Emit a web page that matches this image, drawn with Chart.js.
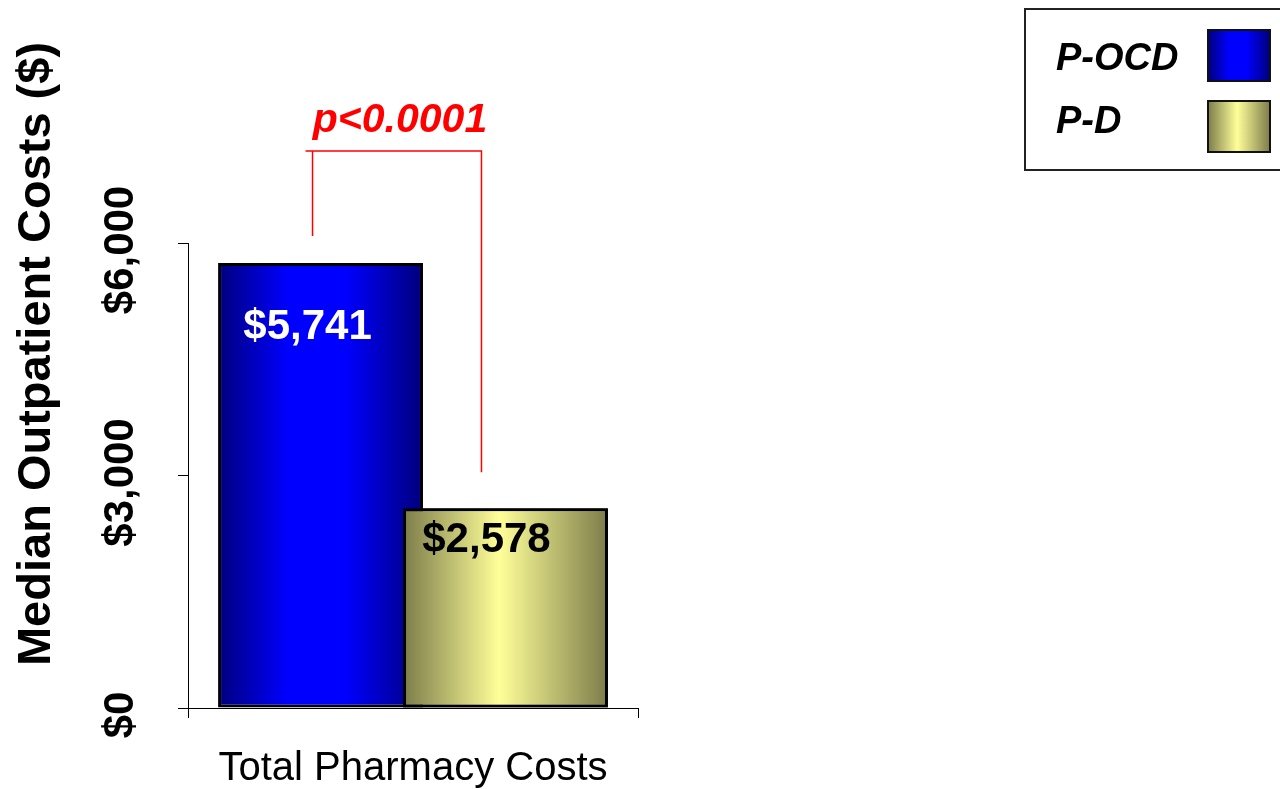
<!DOCTYPE html>
<html>
<head>
<meta charset="utf-8">
<script src="https://cdn.jsdelivr.net/npm/chart.js@4/dist/chart.umd.min.js"></script>
<style>
  body { margin: 0; background: #fff; }
  canvas { display: block; }
</style>
</head>
<body>
<canvas id="chart" width="1280" height="789"></canvas>
<script>
// data
const categories = ['Total Pharmacy Costs'];
const seriesNames = ['P-OCD', 'P-D'];
const pocdValues = [5741];
const pdValues = [2578];
const yTicks = [0, 3000, 6000];
const yTitle = 'Median Outpatient Costs ($)';
const pText = 'p<0.0001';

const FONT = '"Liberation Sans", Arial, sans-serif';

// horizontal shading of each bar: dark edges, light middle
const gradStops = [
  [[0, '#00007c'], [0.34, '#0000ff'], [0.62, '#0000ff'], [1, '#00007c']],
  [[0, '#7c7c4a'], [0.47, '#ffff99'], [1, '#7c7c4a']]
];
// value label look, relative to the top of each bar
const labelStyle = [
  { color: '#ffffff', dx: -13, dy: 64 },
  { color: '#000000', dx: -19, dy: 32 }
];

function money(v) {
  return '$' + Number(v).toLocaleString('en-US');
}

function barFill(c) {
  const stops = gradStops[c.datasetIndex];
  const el = c.element;
  if (!el || el.x === undefined || !el.width) return stops[1][1];
  const g = c.chart.ctx.createLinearGradient(el.x - el.width / 2, 0, el.x + el.width / 2, 0);
  stops.forEach(s => g.addColorStop(s[0], s[1]));
  return g;
}

const extras = {
  id: 'extras',
  afterDatasetsDraw(chart) {
    const ctx = chart.ctx;
    // the P-D bar sits in front of the P-OCD bar
    chart.getDatasetMeta(1).controller.draw();

    // value labels
    ctx.save();
    ctx.font = 'bold 42px ' + FONT;
    ctx.textAlign = 'center';
    ctx.textBaseline = 'middle';
    chart.data.datasets.forEach((ds, i) => {
      chart.getDatasetMeta(i).data.forEach((bar, j) => {
        const st = labelStyle[i];
        ctx.fillStyle = st.color;
        ctx.fillText(money(ds.data[j]), bar.x + st.dx, bar.y + st.dy);
      });
    });
    ctx.restore();

    // significance bracket
    const a = chart.getDatasetMeta(0).data[0];
    const b = chart.getDatasetMeta(1).data[0];
    const top = chart.chartArea.top - 92;
    const x1 = a.x - 8, x2 = b.x - 24;
    ctx.save();
    ctx.strokeStyle = '#ff0000';
    ctx.lineWidth = 1.5;
    ctx.beginPath();
    ctx.moveTo(x1, a.y - 27);
    ctx.lineTo(x1, top);
    ctx.moveTo(x1 - 7, top);
    ctx.lineTo(x2, top);
    ctx.lineTo(x2, b.y - 36);
    ctx.stroke();
    ctx.fillStyle = '#ff0000';
    ctx.font = 'italic bold 41px ' + FONT;
    ctx.textAlign = 'center';
    ctx.textBaseline = 'alphabetic';
    ctx.fillText(pText, (x1 + x2) / 2 + 3, top - 19);
    ctx.restore();
  },
  afterDraw(chart) {
    const ctx = chart.ctx;
    const area = chart.chartArea;
    // y axis title
    ctx.save();
    ctx.translate(50, (0 + area.bottom) / 2);
    ctx.rotate(-Math.PI / 2);
    ctx.font = 'bold 47px ' + FONT;
    ctx.fillStyle = '#000';
    ctx.textAlign = 'center';
    ctx.textBaseline = 'alphabetic';
    ctx.fillText(yTitle, 0, 0);
    ctx.restore();

    // legend box
    ctx.save();
    ctx.strokeStyle = '#222';
    ctx.lineWidth = 2;
    ctx.strokeRect(1025, 9, 300, 161);
    ctx.font = 'italic bold 38px ' + FONT;
    ctx.fillStyle = '#000';
    ctx.textBaseline = 'alphabetic';
    chart.data.datasets.forEach((ds, i) => {
      const y0 = 30 + i * 71;
      ctx.fillText(ds.label, 1056, 70 + i * 63);
      const g = ctx.createLinearGradient(1208, 0, 1270, 0);
      gradStops[i].forEach(s => g.addColorStop(s[0], s[1]));
      ctx.fillStyle = g;
      ctx.fillRect(1208, y0, 62, 51);
      ctx.lineWidth = 2;
      ctx.strokeStyle = '#111';
      ctx.strokeRect(1208, y0, 62, 51);
      ctx.fillStyle = '#000';
    });
    ctx.restore();
  }
};

const chart = new Chart(document.getElementById('chart'), {
  type: 'bar',
  data: {
    labels: categories,
    datasets: [
      { label: seriesNames[0], data: pocdValues, backgroundColor: barFill },
      { label: seriesNames[1], data: pdValues, backgroundColor: barFill }
    ]
  },
  options: {
    responsive: false,
    animation: false,
    devicePixelRatio: 1,
    layout: { padding: { top: 243, right: 642, left: 0, bottom: 0 } },
    datasets: {
      bar: {
        categoryPercentage: 0.822,
        barPercentage: 1.108,
        borderColor: '#000',
        borderWidth: 3,
        borderSkipped: false
      }
    },
    plugins: {
      legend: { display: false },
      tooltip: { enabled: false }
    },
    scales: {
      x: {
        afterFit(s) { s.height = 81; },
        grid: { drawOnChartArea: false, color: '#000', tickLength: 10 },
        border: { color: '#000', width: 1 },
        ticks: {
          color: '#000',
          padding: 27,
          font: { family: FONT, size: 40 }
        }
      },
      y: {
        min: yTicks[0],
        max: yTicks[yTicks.length - 1],
        afterFit(s) { s.width = 188; },
        afterBuildTicks(s) { s.ticks = yTicks.map(v => ({ value: v })); },
        grid: { drawOnChartArea: false, color: '#000', tickLength: 10 },
        border: { color: '#000', width: 1 },
        ticks: {
          color: '#000',
          minRotation: 90,
          maxRotation: 90,
          crossAlign: 'center',
          padding: -8,
          labelOffset: 7,
          font: { family: FONT, size: 42, weight: 'bold' },
          callback: v => money(v)
        }
      }
    }
  },
  plugins: [extras]
});
// second pass so the bar gradients can use the laid-out bar positions
chart.update('none');
</script>
</body>
</html>
